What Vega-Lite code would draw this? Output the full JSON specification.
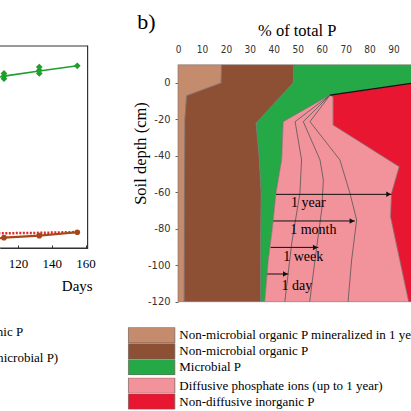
{
  "$schema": "https://vega.github.io/schema/vega-lite/v6.json",
  "width": 411,
  "height": 411,
  "padding": 0,
  "autosize": {"type": "none"},
  "background": "white",
  "config": {"view": {"stroke": null}, "font": "Liberation Serif"},
  "datasets": {
    "paLines": [
      {"series": "green", "day": 98, "v": 82.4}, {"series": "green", "day": 111.7, "v": 85.1}, {"series": "green", "day": 132.6, "v": 87.6}, {"series": "green", "day": 155.1, "v": 90.2},
      {"series": "brown", "day": 98, "v": 3.5}, {"series": "brown", "day": 111.7, "v": 5.1}, {"series": "brown", "day": 132.6, "v": 6.1}, {"series": "brown", "day": 155.1, "v": 7.8},
      {"series": "red", "day": 98, "v": 7.1}, {"series": "red", "day": 111.7, "v": 7.3}, {"series": "red", "day": 132.6, "v": 7.5}, {"series": "red", "day": 155.1, "v": 7.9}
    ],
    "paGreenPts": [
      {"day": 111.7, "v": 86.4}, {"day": 111.7, "v": 83.8}, {"day": 111.7, "v": 85.1},
      {"day": 132.6, "v": 89.6}, {"day": 132.6, "v": 86.4}, {"day": 132.6, "v": 88.0},
      {"day": 155.1, "v": 90.2}
    ],
    "paBrownPts": [
      {"day": 111.7, "v": 5.1}, {"day": 132.6, "v": 6.1}, {"day": 155.1, "v": 7.8}
    ],
    "paTexts": [
      {"t": "Inorganic P", "day": 123.1, "v": -41.4},
      {"t": "Organic P (non-microbial P)", "day": 143.8, "v": -54.3}
    ],
    "areasOrg": [
      {"comp": "Non-microbial organic P mineralized in 1 year", "depth": 10, "x1": 0, "x2": 18.2},
      {"comp": "Non-microbial organic P mineralized in 1 year", "depth": 0, "x1": 0, "x2": 18.0},
      {"comp": "Non-microbial organic P mineralized in 1 year", "depth": -7, "x1": 0, "x2": 3.6},
      {"comp": "Non-microbial organic P mineralized in 1 year", "depth": -20, "x1": 0, "x2": 2.9},
      {"comp": "Non-microbial organic P mineralized in 1 year", "depth": -120, "x1": 0, "x2": 2.6},
      {"comp": "Non-microbial organic P", "depth": 10, "x1": 18.2, "x2": 48.4},
      {"comp": "Non-microbial organic P", "depth": 0, "x1": 18.0, "x2": 48.1},
      {"comp": "Non-microbial organic P", "depth": -7, "x1": 3.6, "x2": 43.2},
      {"comp": "Non-microbial organic P", "depth": -20, "x1": 2.9, "x2": 34.1},
      {"comp": "Non-microbial organic P", "depth": -22.1, "x1": 2.9, "x2": 32.6},
      {"comp": "Non-microbial organic P", "depth": -40, "x1": 2.8, "x2": 33.9},
      {"comp": "Non-microbial organic P", "depth": -60, "x1": 2.7, "x2": 34.7},
      {"comp": "Non-microbial organic P", "depth": -90, "x1": 2.65, "x2": 34.5},
      {"comp": "Non-microbial organic P", "depth": -120, "x1": 2.6, "x2": 34.5},
      {"comp": "Microbial P", "depth": 10, "x1": 48.4, "x2": 100},
      {"comp": "Microbial P", "depth": 0.3, "x1": 48.1, "x2": 100},
      {"comp": "Microbial P", "depth": 0, "x1": 48.1, "x2": 98.4},
      {"comp": "Microbial P", "depth": -6.6, "x1": 43.3, "x2": 63.5},
      {"comp": "Microbial P", "depth": -21.2, "x1": 33.1, "x2": 44.0},
      {"comp": "Microbial P", "depth": -22.1, "x1": 32.6, "x2": 43.9},
      {"comp": "Microbial P", "depth": -42.2, "x1": 34.0, "x2": 43.3},
      {"comp": "Microbial P", "depth": -60.5, "x1": 34.7, "x2": 40.9},
      {"comp": "Microbial P", "depth": -78.8, "x1": 34.6, "x2": 39.5},
      {"comp": "Microbial P", "depth": -97.1, "x1": 34.5, "x2": 37.7},
      {"comp": "Microbial P", "depth": -120, "x1": 34.5, "x2": 36.2}
    ],
    "areasInorg": [
      {"comp": "Diffusive phosphate ions (up to 1 year)", "depth": -6.6, "x1": 63.5, "x2": 63.5},
      {"comp": "Diffusive phosphate ions (up to 1 year)", "depth": -7.5, "x1": 62.3, "x2": 64.8},
      {"comp": "Diffusive phosphate ions (up to 1 year)", "depth": -21.2, "x1": 44.0, "x2": 64.8},
      {"comp": "Diffusive phosphate ions (up to 1 year)", "depth": -23.0, "x1": 43.9, "x2": 64.8},
      {"comp": "Diffusive phosphate ions (up to 1 year)", "depth": -42.2, "x1": 43.3, "x2": 87.9},
      {"comp": "Diffusive phosphate ions (up to 1 year)", "depth": -45.9, "x1": 42.8, "x2": 92.4},
      {"comp": "Diffusive phosphate ions (up to 1 year)", "depth": -60.5, "x1": 40.9, "x2": 89.2},
      {"comp": "Diffusive phosphate ions (up to 1 year)", "depth": -73.4, "x1": 39.9, "x2": 88.8},
      {"comp": "Diffusive phosphate ions (up to 1 year)", "depth": -78.8, "x1": 39.5, "x2": 89.7},
      {"comp": "Diffusive phosphate ions (up to 1 year)", "depth": -97.1, "x1": 37.7, "x2": 92.6},
      {"comp": "Diffusive phosphate ions (up to 1 year)", "depth": -119, "x1": 36.3, "x2": 96.2},
      {"comp": "Diffusive phosphate ions (up to 1 year)", "depth": -120, "x1": 36.2, "x2": 96.4},
      {"comp": "Non-diffusive inorganic P", "depth": 0.3, "x1": 100, "x2": 100},
      {"comp": "Non-diffusive inorganic P", "depth": 0, "x1": 98.4, "x2": 100},
      {"comp": "Non-diffusive inorganic P", "depth": -6.6, "x1": 63.5, "x2": 100},
      {"comp": "Non-diffusive inorganic P", "depth": -7.5, "x1": 64.8, "x2": 100},
      {"comp": "Non-diffusive inorganic P", "depth": -23.0, "x1": 64.8, "x2": 100},
      {"comp": "Non-diffusive inorganic P", "depth": -45.9, "x1": 92.4, "x2": 100},
      {"comp": "Non-diffusive inorganic P", "depth": -60.5, "x1": 89.2, "x2": 100},
      {"comp": "Non-diffusive inorganic P", "depth": -73.4, "x1": 88.8, "x2": 100},
      {"comp": "Non-diffusive inorganic P", "depth": -119, "x1": 96.2, "x2": 100},
      {"comp": "Non-diffusive inorganic P", "depth": -120, "x1": 96.4, "x2": 100}
    ],
    "fronts": [
      {"front": "1 day", "depth": -6.6, "x": 63.5}, {"front": "1 day", "depth": -21.2, "x": 48.9}, {"front": "1 day", "depth": -42.2, "x": 51.6}, {"front": "1 day", "depth": -60.5, "x": 50.9}, {"front": "1 day", "depth": -87.8, "x": 47.5}, {"front": "1 day", "depth": -120, "x": 44.6},
      {"front": "1 week", "depth": -6.6, "x": 63.5}, {"front": "1 week", "depth": -21.2, "x": 52.3}, {"front": "1 week", "depth": -42.2, "x": 59.3}, {"front": "1 week", "depth": -53.2, "x": 60.7}, {"front": "1 week", "depth": -69.7, "x": 60.0}, {"front": "1 week", "depth": -97.1, "x": 57.2}, {"front": "1 week", "depth": -120, "x": 55.0},
      {"front": "1 month", "depth": -6.6, "x": 63.5}, {"front": "1 month", "depth": -21.2, "x": 55.1}, {"front": "1 month", "depth": -42.2, "x": 67.6}, {"front": "1 month", "depth": -60.5, "x": 71.8}, {"front": "1 month", "depth": -75.2, "x": 74.6}, {"front": "1 month", "depth": -97.1, "x": 72.5}, {"front": "1 month", "depth": -120, "x": 71.0}
    ],
    "topLine": [
      {"depth": -6.6, "x": 63.5}, {"depth": 0.3, "x": 100}
    ],
    "arrows": [
      {"label": "1 year", "depth": -61.1, "x1": 40.9, "x2": 89.2},
      {"label": "1 month", "depth": -75.7, "x1": 39.8, "x2": 73.9},
      {"label": "1 week", "depth": -90.2, "x1": 38.7, "x2": 58.6},
      {"label": "1 day", "depth": -104.8, "x1": 37.3, "x2": 46.1}
    ],
    "arrowLabels": [
      {"t": "1 year", "x": 54.4, "depth": -66.0},
      {"t": "1 month", "x": 56.5, "depth": -80.7},
      {"t": "1 week", "x": 52.3, "depth": -95.3},
      {"t": "1 day", "x": 49.6, "depth": -111.4}
    ]
  },
  "layer": [
    {
      "data": {"values": [{}]},
      "mark": {"type": "tick", "orient": "horizontal", "color": "#333333", "size": 115.2, "thickness": 1.2, "opacity": 1},
      "encoding": {
        "x": {"datum": 127.1, "type": "quantitative", "scale": {"domain": [109.35, 161.2], "range": [0, 87.6], "nice": false, "zero": false}, "axis": null},
        "y": {"datum": 100, "type": "quantitative", "scale": {"domain": [0, 100], "range": [248, 46], "nice": false, "zero": false}, "axis": null}
      }
    },
    {
      "data": {"values": [{}]},
      "mark": {"type": "tick", "orient": "horizontal", "color": "#333333", "size": 115.2, "thickness": 1.2, "opacity": 1},
      "encoding": {
        "x": {"datum": 127.1, "type": "quantitative", "scale": {"domain": [109.35, 161.2], "range": [0, 87.6], "nice": false, "zero": false}, "axis": null},
        "y": {"datum": 0, "type": "quantitative", "scale": {"domain": [0, 100], "range": [248, 46], "nice": false, "zero": false}, "axis": null}
      }
    },
    {
      "data": {"values": [{}]},
      "mark": {"type": "tick", "orient": "vertical", "color": "#333333", "size": 203.2, "thickness": 1.2, "opacity": 1},
      "encoding": {
        "x": {"datum": 161.2, "type": "quantitative", "scale": {"domain": [109.35, 161.2], "range": [0, 87.6], "nice": false, "zero": false}, "axis": null},
        "y": {"datum": 50, "type": "quantitative", "scale": {"domain": [0, 100], "range": [248, 46], "nice": false, "zero": false}, "axis": null}
      }
    },
    {
      "data": {"name": "paLines"},
      "transform": [{"filter": "datum.series === 'red'"}],
      "mark": {"type": "line", "color": "#E02828", "strokeWidth": 2.5, "strokeDash": [2, 1.5]},
      "encoding": {
        "x": {"field": "day", "type": "quantitative", "scale": {"domain": [109.35, 161.2], "range": [0, 87.6], "nice": false, "zero": false}, "axis": null},
        "y": {"field": "v", "type": "quantitative", "scale": {"domain": [0, 100], "range": [248, 46], "nice": false, "zero": false}, "axis": null}
      }
    },
    {
      "data": {"name": "paLines"},
      "transform": [{"filter": "datum.series === 'brown'"}],
      "mark": {"type": "line", "color": "#A4481C", "strokeWidth": 2.2},
      "encoding": {
        "x": {"field": "day", "type": "quantitative", "scale": {"domain": [109.35, 161.2], "range": [0, 87.6], "nice": false, "zero": false}, "axis": null},
        "y": {"field": "v", "type": "quantitative", "scale": {"domain": [0, 100], "range": [248, 46], "nice": false, "zero": false}, "axis": null}
      }
    },
    {
      "data": {"name": "paBrownPts"},
      "mark": {"type": "point", "shape": "circle", "filled": true, "color": "#A4481C", "size": 32, "opacity": 1},
      "encoding": {
        "x": {"field": "day", "type": "quantitative", "scale": {"domain": [109.35, 161.2], "range": [0, 87.6], "nice": false, "zero": false}, "axis": null},
        "y": {"field": "v", "type": "quantitative", "scale": {"domain": [0, 100], "range": [248, 46], "nice": false, "zero": false}, "axis": null}
      }
    },
    {
      "data": {"name": "paLines"},
      "transform": [{"filter": "datum.series === 'green'"}],
      "mark": {"type": "line", "color": "#1F9E2C", "strokeWidth": 1.6},
      "encoding": {
        "x": {"field": "day", "type": "quantitative", "scale": {"domain": [109.35, 161.2], "range": [0, 87.6], "nice": false, "zero": false},
          "axis": {"orient": "bottom", "offset": -163, "values": [120, 140, 160], "domain": true, "domainColor": "#333333", "domainWidth": 1.2, "grid": false, "ticks": true, "tickSize": -3, "tickColor": "#333333",
            "labelFont": "Liberation Serif", "labelFontSize": 13, "labelColor": "#000000", "labelPadding": 12,
            "title": "Days", "titleFont": "Liberation Serif", "titleFontSize": 15, "titleFontWeight": "normal", "titleColor": "#000000",
            "titleX": 76.7, "titleY": 37, "titleBaseline": "middle", "titleAlign": "center"}},
        "y": {"field": "v", "type": "quantitative", "scale": {"domain": [0, 100], "range": [248, 46], "nice": false, "zero": false}, "axis": null}
      }
    },
    {
      "data": {"name": "paGreenPts"},
      "mark": {"type": "point", "shape": "diamond", "filled": true, "color": "#1F9E2C", "size": 45, "opacity": 1},
      "encoding": {
        "x": {"field": "day", "type": "quantitative", "scale": {"domain": [109.35, 161.2], "range": [0, 87.6], "nice": false, "zero": false}, "axis": null},
        "y": {"field": "v", "type": "quantitative", "scale": {"domain": [0, 100], "range": [248, 46], "nice": false, "zero": false}, "axis": null}
      }
    },
    {
      "data": {"name": "paTexts"},
      "mark": {"type": "text", "align": "right", "baseline": "middle", "font": "Liberation Serif", "fontSize": 13, "color": "#000000"},
      "encoding": {
        "x": {"field": "day", "type": "quantitative", "scale": {"domain": [109.35, 161.2], "range": [0, 87.6], "nice": false, "zero": false}, "axis": null},
        "y": {"field": "v", "type": "quantitative", "scale": {"domain": [0, 100], "range": [248, 46], "nice": false, "zero": false}, "axis": null},
        "text": {"field": "t"}
      }
    },
    {
      "data": {"name": "areasOrg"},
      "mark": {"type": "area", "orient": "horizontal", "stroke": "#7d7070", "strokeWidth": 0.6},
      "encoding": {
        "y": {"field": "depth", "type": "quantitative", "scale": {"domain": [-179.97, 45.54], "nice": false, "zero": false},
          "axis": {"orient": "left", "offset": -178, "values": [0, -20, -40, -60, -80, -100, -120], "labelExpr": "'' + datum.value", "domain": false, "grid": false, "ticks": true, "tickSize": 3, "tickColor": "#666666",
            "labelFont": "'Liberation Sans Narrow', 'DejaVu Sans Condensed', 'Liberation Sans', sans-serif", "labelFontSize": 11, "labelColor": "#333333", "labelPadding": 5,
            "title": "Soil depth (cm)", "titleFont": "Liberation Serif", "titleFontSize": 16.5, "titleFontWeight": "normal", "titleColor": "#000000",
            "titleX": -38, "titleY": 153, "titleAngle": -90, "titleBaseline": "middle", "titleAlign": "center"}},
        "x": {"field": "x1", "type": "quantitative", "scale": {"domain": [-74.32, 97.29], "nice": false, "zero": false},
          "axis": {"orient": "top", "offset": -64, "values": [0, 10, 20, 30, 40, 50, 60, 70, 80, 90], "domain": false, "grid": false, "ticks": false,
            "labelFont": "'Liberation Sans Narrow', 'DejaVu Sans Condensed', 'Liberation Sans', sans-serif", "labelFontSize": 10, "labelColor": "#333333", "labelPadding": 10,
            "title": "% of total P", "titleFont": "Liberation Serif", "titleFontSize": 16.5, "titleFontWeight": "normal", "titleColor": "#000000",
            "titleX": 296.7, "titleY": -34, "titleBaseline": "middle", "titleAlign": "center"}},
        "x2": {"field": "x2"},
        "fill": {"field": "comp", "type": "nominal",
          "scale": {"domain": ["Non-microbial organic P mineralized in 1 year", "Non-microbial organic P", "Microbial P"], "range": ["#C48B6C", "#8D5034", "#25A846"]},
          "legend": {"orient": "none", "legendX": 127.6, "legendY": 327.3, "direction": "vertical", "title": null, "padding": 0, "rowPadding": 0, "clipHeight": 15.7,
            "symbolType": "M-1,-1H5V1H-1Z", "symbolSize": 240, "symbolStrokeColor": "#6a5a55", "symbolStrokeWidth": 0.7, "symbolOpacity": 1,
            "labelFont": "Liberation Serif", "labelFontSize": 13, "labelColor": "#000000", "labelOffset": 34.7, "labelLimit": 600}}
      }
    },
    {
      "data": {"name": "areasInorg"},
      "mark": {"type": "area", "orient": "horizontal", "stroke": "#7d7070", "strokeWidth": 0.6},
      "encoding": {
        "y": {"field": "depth", "type": "quantitative", "scale": {"domain": [-179.97, 45.54], "nice": false, "zero": false}, "axis": null},
        "x": {"field": "x1", "type": "quantitative", "scale": {"domain": [-74.32, 97.29], "nice": false, "zero": false}, "axis": null},
        "x2": {"field": "x2"},
        "fill": {"field": "comp", "type": "nominal",
          "scale": {"domain": ["Diffusive phosphate ions (up to 1 year)", "Non-diffusive inorganic P"], "range": ["#F2929B", "#E81630"]},
          "legend": {"orient": "none", "legendX": 127.6, "legendY": 377.7, "direction": "vertical", "title": null, "padding": 0, "rowPadding": 0, "clipHeight": 15.7,
            "symbolType": "M-1,-1H5V1H-1Z", "symbolSize": 240, "symbolStrokeColor": "#6a5a55", "symbolStrokeWidth": 0.7, "symbolOpacity": 1,
            "labelFont": "Liberation Serif", "labelFontSize": 13, "labelColor": "#000000", "labelOffset": 34.7, "labelLimit": 600}}
      }
    },
    {
      "data": {"name": "fronts"},
      "mark": {"type": "line", "orient": "horizontal", "color": "#555555", "strokeWidth": 0.8},
      "encoding": {
        "y": {"field": "depth", "type": "quantitative", "scale": {"domain": [-179.97, 45.54], "nice": false, "zero": false}, "axis": null},
        "x": {"field": "x", "type": "quantitative", "scale": {"domain": [-74.32, 97.29], "nice": false, "zero": false}, "axis": null},
        "detail": {"field": "front"}
      }
    },
    {
      "data": {"name": "topLine"},
      "mark": {"type": "line", "orient": "horizontal", "color": "#111111", "strokeWidth": 1.3},
      "encoding": {
        "y": {"field": "depth", "type": "quantitative", "scale": {"domain": [-179.97, 45.54], "nice": false, "zero": false}, "axis": null},
        "x": {"field": "x", "type": "quantitative", "scale": {"domain": [-74.32, 97.29], "nice": false, "zero": false}, "axis": null}
      }
    },
    {
      "data": {"name": "arrows"},
      "mark": {"type": "rule", "color": "#111111", "strokeWidth": 1},
      "encoding": {
        "y": {"field": "depth", "type": "quantitative", "scale": {"domain": [-179.97, 45.54], "nice": false, "zero": false}, "axis": null},
        "x": {"field": "x1", "type": "quantitative", "scale": {"domain": [-74.32, 97.29], "nice": false, "zero": false}, "axis": null},
        "x2": {"field": "x2"}
      }
    },
    {
      "data": {"name": "arrows"},
      "mark": {"type": "point", "shape": "triangle-right", "filled": true, "color": "#111111", "size": 30, "opacity": 1, "xOffset": -3},
      "encoding": {
        "y": {"field": "depth", "type": "quantitative", "scale": {"domain": [-179.97, 45.54], "nice": false, "zero": false}, "axis": null},
        "x": {"field": "x2", "type": "quantitative", "scale": {"domain": [-74.32, 97.29], "nice": false, "zero": false}, "axis": null}
      }
    },
    {
      "data": {"name": "arrowLabels"},
      "mark": {"type": "text", "align": "center", "baseline": "middle", "font": "Liberation Serif", "fontSize": 14, "color": "#000000"},
      "encoding": {
        "y": {"field": "depth", "type": "quantitative", "scale": {"domain": [-179.97, 45.54], "nice": false, "zero": false}, "axis": null},
        "x": {"field": "x", "type": "quantitative", "scale": {"domain": [-74.32, 97.29], "nice": false, "zero": false}, "axis": null},
        "text": {"field": "t"}
      }
    },
    {
      "data": {"values": [{}]},
      "mark": {"type": "text", "align": "left", "baseline": "middle", "font": "Liberation Serif", "fontSize": 22, "color": "#000000"},
      "encoding": {
        "y": {"datum": 33.6, "type": "quantitative", "scale": {"domain": [-179.97, 45.54], "nice": false, "zero": false}, "axis": null},
        "x": {"datum": -17.0, "type": "quantitative", "scale": {"domain": [-74.32, 97.29], "nice": false, "zero": false}, "axis": null},
        "text": {"value": "b)"}
      }
    }
  ],
  "resolve": {"scale": {"x": "independent", "y": "independent", "fill": "independent"}}
}
